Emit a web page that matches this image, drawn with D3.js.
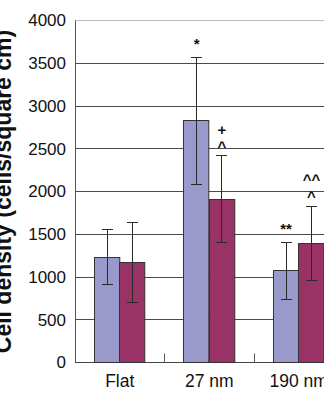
<!DOCTYPE html>
<html>
<head>
<meta charset="utf-8">
<script src="https://cdn.jsdelivr.net/npm/d3@7"></script>
<style>
  html, body { margin: 0; padding: 0; background: #fff; overflow: hidden; }
  svg { display: block; }
</style>
</head>
<body>
<svg id="chart" width="324" height="400"></svg>
<script>
// Cell density per substrate, two treatments
const categories = ["Flat", "27 nm", "190 nm"];
const seriesNames = ["A", "B"];
const meansA = [1230, 2828, 1075];
const meansB = [1172, 1912, 1395];
const errA = [320, 743, 333];
const errB = [470, 507, 435];
// significance marks shown above each bar (bottom line first)
const marksA = [[], ["*"], ["**"]];
const marksB = [[], ["^", "+"], ["^", "^^"]];
const yTicks = [0, 500, 1000, 1500, 2000, 2500, 3000, 3500, 4000];
const yLabel = "Cell density (cells/square cm)";

const colors = { A: "#9999cc", B: "#993366" };
const font = "'Liberation Sans', Arial, sans-serif";

const svg = d3.select("#chart");
const plotLeft = 75, plotRight = 343.5, plotTop = 20.5, plotBottom = 362.5;

const x0 = d3.scaleBand().domain(categories).range([plotLeft, plotRight]).padding(0);
const x1 = d3.scaleBand().domain(seriesNames).range([0, x0.bandwidth()]).paddingInner(0).paddingOuter(0.77);
const y = d3.scaleLinear().domain([0, 4000]).range([plotBottom, plotTop]);
const crisp = v => Math.round(v - 0.5) + 0.5;

// horizontal gridlines
svg.append("g").selectAll("line")
  .data(yTicks.filter(t => t > 0))
  .join("line")
  .attr("x1", plotLeft).attr("x2", 324)
  .attr("y1", d => crisp(y(d))).attr("y2", d => crisp(y(d)))
  .attr("stroke", d => d === 4000 ? "#bdbdbd" : "#4a4a4a")
  .attr("stroke-width", 1);

// y axis with labels only
const yAxis = d3.axisLeft(y).tickValues(yTicks).tickSize(0).tickPadding(9).tickFormat(d3.format("d"));
const gy = svg.append("g").attr("transform", `translate(${plotLeft},0)`).call(yAxis);
gy.select(".domain").remove();
gy.selectAll("text").attr("font-family", font).attr("font-size", 17).attr("fill", "#111");

// left axis line and baseline
svg.append("line").attr("x1", crisp(plotLeft)).attr("x2", crisp(plotLeft))
  .attr("y1", crisp(plotTop)).attr("y2", crisp(plotBottom)).attr("stroke", "#555");
svg.append("line").attr("x1", plotLeft).attr("x2", 324)
  .attr("y1", crisp(plotBottom)).attr("y2", crisp(plotBottom)).attr("stroke", "#444");

// inward tick marks between categories
svg.append("g").selectAll("line")
  .data(categories.slice(1))
  .join("line")
  .attr("x1", d => crisp(x0(d))).attr("x2", d => crisp(x0(d)))
  .attr("y1", crisp(plotBottom)).attr("y2", crisp(plotBottom) - 9)
  .attr("stroke", "#555");

// build bar records
const rows = [];
categories.forEach((c, i) => {
  rows.push({ cat: c, s: "A", v: meansA[i], e: errA[i], marks: marksA[i] });
  rows.push({ cat: c, s: "B", v: meansB[i], e: errB[i], marks: marksB[i] });
});
const bx = d => x0(d.cat) + x1(d.s);

// bars
svg.append("g").selectAll("rect")
  .data(rows)
  .join("rect")
  .attr("x", d => crisp(bx(d)))
  .attr("y", d => crisp(y(d.v)))
  .attr("width", x1.bandwidth())
  .attr("height", d => crisp(plotBottom) - crisp(y(d.v)))
  .attr("fill", d => colors[d.s])
  .attr("stroke", "#333")
  .attr("stroke-width", 1);

// error bars
const eg = svg.append("g").attr("stroke", "#2a2a2a").attr("stroke-width", 1);
rows.forEach(d => {
  const cx = crisp(bx(d) + x1.bandwidth() / 2);
  const yh = crisp(y(d.v + d.e)), yl = crisp(y(d.v - d.e));
  eg.append("line").attr("x1", cx).attr("x2", cx).attr("y1", yh).attr("y2", yl);
  eg.append("line").attr("x1", cx - 5.5).attr("x2", cx + 5.5).attr("y1", yh).attr("y2", yh);
  eg.append("line").attr("x1", cx - 5.5).attr("x2", cx + 5.5).attr("y1", yl).attr("y2", yl);
});

// significance marks stacked above the error bars
rows.forEach(d => {
  const cx = bx(d) + x1.bandwidth() / 2;
  d.marks.forEach((m, k) => {
    const isStar = m.indexOf("*") >= 0;
    svg.append("text")
      .attr("x", cx)
      .attr("y", y(d.v + d.e) - (isStar ? 8 : 4) - k * 17)
      .attr("text-anchor", "middle")
      .attr("font-family", font)
      .attr("font-weight", "bold")
      .attr("font-size", 15)
      .attr("fill", "#111")
      .text(m);
  });
});

// category labels
svg.append("g").selectAll("text")
  .data(categories)
  .join("text")
  .attr("x", d => x0(d) + x0.bandwidth() / 2)
  .attr("y", 387)
  .attr("text-anchor", "middle")
  .attr("font-family", font)
  .attr("font-size", 17.5)
  .attr("fill", "#111")
  .text(d => d);

// y axis title
svg.append("text")
  .attr("transform", `translate(11,${(plotTop + plotBottom) / 2}) rotate(-90)`)
  .attr("text-anchor", "middle")
  .attr("font-family", font)
  .attr("font-weight", "bold")
  .attr("font-size", 23)
  .attr("fill", "#111")
  .text(yLabel);
</script>
</body>
</html>
